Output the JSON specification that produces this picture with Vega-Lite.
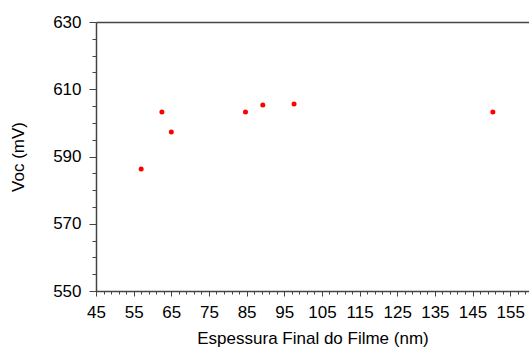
{
  "$schema": "https://vega.github.io/schema/vega-lite/v6.json",
  "width": 433,
  "height": 269,
  "autosize": {"type": "none"},
  "padding": {"left": 96, "top": 22, "right": 0, "bottom": 58},
  "config": {
    "view": {"stroke": null},
    "font": "Liberation Sans",
    "axis": {"grid": false, "labelFlush": false, "domainColor": "#444444", "tickColor": "#444444", "labelColor": "#000000", "titleColor": "#000000", "labelFont": "Liberation Sans", "titleFont": "Liberation Sans", "labelFontSize": 17, "titleFontSize": 17, "titleFontWeight": "normal", "domainWidth": 1.5, "tickWidth": 1}
  },
  "data": {"values": [
    {"t": 57.0, "voc": 586.3},
    {"t": 62.5, "voc": 603.2},
    {"t": 65.0, "voc": 597.3},
    {"t": 84.7, "voc": 603.2},
    {"t": 89.3, "voc": 605.3},
    {"t": 97.6, "voc": 605.6},
    {"t": 150.4, "voc": 603.2}
  ]},
  "resolve": {"axis": {"x": "independent", "y": "independent"}},
  "layer": [
    {
      "mark": {"type": "point", "opacity": 0},
      "encoding": {
        "x": {"field": "t", "type": "quantitative", "scale": {"domain": [45, 160], "nice": false, "zero": false},
          "axis": {"orient": "bottom", "values": [45,47,49,51,53,55,57,59,61,63,65,67,69,71,73,75,77,79,81,83,85,87,89,91,93,95,97,99,101,103,105,107,109,111,113,115,117,119,121,123,125,127,129,131,133,135,137,139,141,143,145,147,149,151,153,155,157,159], "labels": false, "tickSize": 3, "domain": false, "title": null}},
        "y": {"field": "voc", "type": "quantitative", "scale": {"domain": [550, 630], "nice": false, "zero": false},
          "axis": {"orient": "left", "values": [555,560,565,575,580,585,595,600,605,615,620,625], "labels": false, "tickSize": 4, "domain": false, "title": null}}
      }
    },
    {
      "mark": {"type": "point", "opacity": 0},
      "encoding": {
        "x": {"field": "t", "type": "quantitative", "scale": {"domain": [45, 160], "nice": false, "zero": false},
          "axis": {"orient": "top", "labels": false, "ticks": false, "domain": true, "title": null}},
        "y": {"field": "voc", "type": "quantitative", "scale": {"domain": [550, 630], "nice": false, "zero": false},
          "axis": {"orient": "right", "labels": false, "ticks": false, "domain": false, "title": null}}
      }
    },
    {
      "mark": {"type": "circle", "color": "#ff0000", "opacity": 1, "size": 25},
      "encoding": {
        "x": {"field": "t", "type": "quantitative", "scale": {"domain": [45, 160], "nice": false, "zero": false},
          "axis": {"orient": "bottom", "values": [45,55,65,75,85,95,105,115,125,135,145,155], "tickSize": 5, "labelPadding": 8, "title": "Espessura Final do Filme (nm)", "titlePadding": 10}},
        "y": {"field": "voc", "type": "quantitative", "scale": {"domain": [550, 630], "nice": false, "zero": false},
          "axis": {"orient": "left", "values": [550,570,590,610,630], "tickSize": 7, "labelPadding": 8, "title": "Voc (mV)", "titlePadding": 25}}
      }
    }
  ]
}
